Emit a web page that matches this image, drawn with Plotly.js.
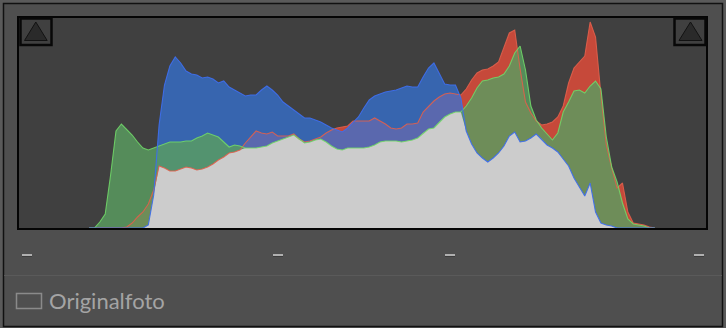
<!DOCTYPE html>
<html>
<head>
<meta charset="utf-8">
<script src="https://cdn.plot.ly/plotly-3.0.1.min.js"></script>
<style>
  html, body { margin: 0; padding: 0; background: #5a5a5a; }
  #chart { width: 726px; height: 328px; }
</style>
</head>
<body>
<div id="chart"></div>
<script>
// Tonal levels (0-255) at which the histogram is sampled
const levels = [
  26,28,30,32,34,36,38,40,42,44,
  46,48,50,52,54,56,58,60,62,64,
  66,68,70,72,74,76,78,80,82,84,
  86,88,90,92,94,96,98,100,102,104,
  106,108,110,112,114,116,118,120,122,124,
  126,128,130,132,134,136,138,140,142,144,
  146,148,150,152,154,156,158,160,162,164,
  166,168,170,172,174,176,178,180,182,184,
  186,188,190,192,194,196,198,200,202,204,
  206,208,210,212,214,216,218,220,222,224,
  226,228,230,232,234,236
];

// Relative pixel counts per channel
const red = [
  0,0,0,0,0,0,0,1,5,11,
  16,24,38,62,60,57,57,59,61,60,
  58,59,61,64,68,71,75,76,78,85,
  91,97,95,94,96,92,92,92,94,89,
  86,87,89,91,95,98,100,101,102,107,
  107,107,107,110,107,104,100,99,100,104,
  104,105,116,122,127,131,134,135,134,133,
  139,148,155,158,159,162,166,180,195,198,
  159,126,115,107,103,104,106,111,122,145,
  160,166,172,206,191,133,83,60,40,45,
  16,5,4,3,1,0
];
const green = [
  0,0,6,14,53,97,104,99,93,86,
  80,78,80,82,84,86,86,86,87,87,
  90,92,95,93,91,86,81,83,82,80,
  80,80,81,82,85,87,89,91,93,89,
  85,86,88,89,86,82,79,78,80,80,
  80,80,81,83,86,87,87,87,86,87,
  88,90,95,99,100,106,111,114,116,116,
  122,130,140,147,148,150,151,154,162,175,
  182,158,122,108,100,94,88,95,116,126,
  137,138,135,142,147,139,91,61,46,25,
  9,4,3,2,0,0
];
const blue = [
  0,0,0,0,0,0,0,0,0,0,
  0,3,33,103,143,162,171,165,157,154,
  153,150,151,149,145,147,141,138,135,132,
  133,133,138,142,138,133,126,122,118,114,
  110,110,108,106,103,100,98,96,100,105,
  111,120,128,132,134,136,137,138,140,142,
  141,141,151,160,165,154,144,143,143,130,
  97,84,75,70,66,70,75,82,92,96,
  86,87,90,94,89,83,80,76,69,62,
  50,41,32,45,16,5,3,2,0,0,
  0,0,0,0,0,0
];
const captionText = "Originalfoto";

// overlap of all three channels (drawn light gray)
const overlap = levels.map((_, i) => Math.min(red[i], green[i], blue[i]));

// pixel helpers for decorations (plot area: x 19..706, y 18..228)
const PL = 19, PR = 706, PT = 18, PB = 228;
const px = x => (x - PL) / (PR - PL);
const py = y => (PB - y) / (PB - PT);

function fillTrace(y, color) {
  return { x: levels, y: y, type: 'scatter', mode: 'none', fill: 'tozeroy',
           fillcolor: color, hoverinfo: 'skip' };
}
function lineTrace(y, color) {
  return { x: levels, y: y, type: 'scatter', mode: 'lines',
           line: { color: color, width: 1.1 }, hoverinfo: 'skip' };
}

const traces = [
  fillTrace(red, 'rgb(198,73,58)'),
  fillTrace(blue, 'rgba(53,115,215,0.74)'),
  fillTrace(green, 'rgba(90,158,96,0.81)'),
  fillTrace(overlap, 'rgb(204,204,204)'),
  lineTrace(red, 'rgba(225,95,75,0.9)'),
  lineTrace(green, 'rgba(112,214,104,0.9)'),
  lineTrace(blue, 'rgba(62,110,235,0.95)')
];

function rect(x0, y0, x1, y1, opts) {
  return Object.assign({ type: 'rect', xref: 'paper', yref: 'paper',
    x0: px(x0), x1: px(x1), y0: py(y1), y1: py(y0) }, opts);
}
function seg(x0, y0, x1, y1, color, width, layer) {
  return { type: 'line', xref: 'paper', yref: 'paper', x0: px(x0), x1: px(x1),
    y0: py(y0), y1: py(y1), line: { color: color, width: width }, layer: layer || 'above' };
}
function tri(ax, ay, lx, rx, by) {
  return { type: 'path', xref: 'paper', yref: 'paper',
    path: 'M' + px(ax) + ',' + py(ay) + ' L' + px(rx) + ',' + py(by) + ' L' + px(lx) + ',' + py(by) + ' Z',
    fillcolor: '#2a2a2a', line: { color: '#121212', width: 1 }, layer: 'above' };
}

const shapes = [
  rect(3.5, 3.5, 722.5, 326.5, { fillcolor: '#4f4f4f', line: { color: '#111', width: 1.5 }, layer: 'below' }),
  rect(19, 18, 706, 228, { fillcolor: '#404040', line: { width: 0 }, layer: 'below' }),
  rect(18, 17, 707, 229, { line: { color: '#050505', width: 2 }, layer: 'above' }),
  rect(20.5, 18.5, 51.5, 45, { fillcolor: '#404040', line: { color: '#080808', width: 2.5 }, layer: 'above' }),
  rect(674.5, 18.5, 705.5, 45, { fillcolor: '#404040', line: { color: '#080808', width: 2.5 }, layer: 'above' }),
  tri(35.8, 22, 24.5, 47.2, 40.5),
  tri(690.5, 22, 679, 702, 40.5),
  seg(4, 275.5, 722, 275.5, '#5a5a5a', 1),
  seg(22, 256.5, 32, 256.5, '#3c3c3c', 1),
  seg(273, 256.5, 283, 256.5, '#3c3c3c', 1),
  seg(445, 256.5, 455, 256.5, '#3c3c3c', 1),
  seg(694, 256.5, 704, 256.5, '#3c3c3c', 1),
  seg(22, 255, 32, 255, '#b0b0b0', 2),
  seg(273, 255, 283, 255, '#b0b0b0', 2),
  seg(445, 255, 455, 255, '#b0b0b0', 2),
  seg(694, 255, 704, 255, '#b0b0b0', 2),
  rect(16.5, 293.5, 41.5, 308.5, { line: { color: '#8a8a8a', width: 1.5 }, layer: 'above' })
];

const layout = {
  width: 726, height: 328,
  margin: { l: PL, r: 726 - PR, t: PT, b: 328 - PB, pad: 0 },
  paper_bgcolor: '#5a5a5a',
  plot_bgcolor: 'rgba(0,0,0,0)',
  showlegend: false,
  xaxis: { range: [0, 255], visible: false, fixedrange: true },
  yaxis: { range: [0, 210], visible: false, fixedrange: true },
  shapes: shapes,
  annotations: [{
    text: captionText, xref: 'paper', yref: 'paper', x: px(47), y: py(300),
    xanchor: 'left', yanchor: 'middle', showarrow: false,
    font: { family: 'Lato, "Open Sans", sans-serif', size: 22, color: '#a4a4a4' }
  }]
};

Plotly.newPlot('chart', traces, layout, { staticPlot: true, displayModeBar: false });
</script>
</body>
</html>
